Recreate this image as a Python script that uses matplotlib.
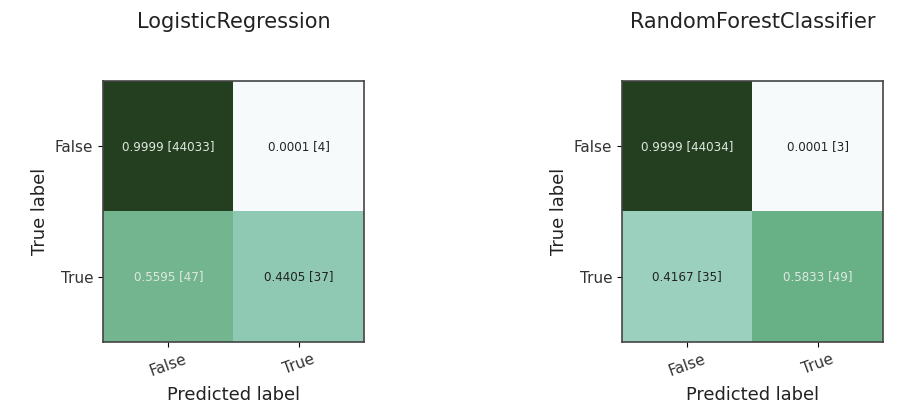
import numpy as np
import matplotlib
matplotlib.use("Agg")
import matplotlib.pyplot as plt
from matplotlib.colors import LinearSegmentedColormap

models = ["LogisticRegression", "RandomForestClassifier"]
class_labels = ["False", "True"]
counts_lr = [[44033, 4], [47, 37]]
rates_lr = [[0.9999, 0.0001], [0.5595, 0.4405]]
counts_rf = [[44034, 3], [35, 49]]
rates_rf = [[0.9999, 0.0001], [0.4167, 0.5833]]

cmap = LinearSegmentedColormap.from_list(
    "cm", [(0.0, "#f6fafb"), (0.42, "#9bd0be"), (0.44, "#8fc9b4"),
           (0.56, "#73b690"), (0.58, "#69b287"), (1.0, "#243f20")])

fig = plt.figure(figsize=(9.10, 4.18), dpi=100)
positions = [(103, 364), (622, 883)]
W, H = 910, 418
top, bottom = 81, 342

for (x0, x1), name, rates, counts in zip(positions, models,
                                         [rates_lr, rates_rf], [counts_lr, counts_rf]):
    ax = fig.add_axes([x0 / W, 1 - bottom / H, (x1 - x0) / W, (bottom - top) / H])
    r = np.array(rates)
    ax.imshow(r, cmap=cmap, vmin=0, vmax=1, aspect="auto")
    for i in range(2):
        for j in range(2):
            color = "#dfe8df" if r[i, j] > 0.5 else "#222222"
            ax.text(j, i, f"{rates[i][j]:.4f} [{counts[i][j]}]", ha="center", va="center",
                    fontsize=8.6, color=color)
    ax.set_xticks([0, 1])
    ax.set_yticks([0, 1])
    ax.set_xticklabels(class_labels, rotation=20, fontsize=11, color="#333333")
    ax.set_yticklabels(class_labels, fontsize=11, color="#333333")
    ax.set_xlabel("Predicted label", fontsize=12.9, color="#222222", labelpad=5)
    ax.set_ylabel("True label", fontsize=12.9, color="#222222")
    ax.set_title(name, fontsize=15, color="#222222", pad=38)
    for s in ax.spines.values():
        s.set_color("#444444")
        s.set_linewidth(1.2)

fig.savefig("out.png", dpi=100)
